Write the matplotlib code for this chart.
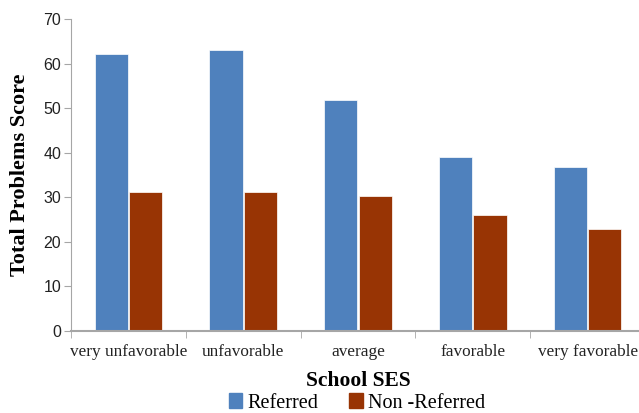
import numpy as np
import matplotlib.pyplot as plt
from matplotlib.patches import Patch

categories = ["very unfavorable", "unfavorable", "average", "favorable", "very favorable"]
referred = [62.1, 63.0, 51.8, 39.0, 36.8]
non_referred = [31.2, 31.2, 30.3, 26.0, 22.9]

blue = "#4f81bd"
red = "#983404"
gray = "#a6a6a6"

fig = plt.figure(figsize=(6.39, 4.13), dpi=100)
ax = fig.add_axes([71 / 639, 1 - 331 / 413, (645 - 71) / 639, 312 / 413])

x = np.arange(len(categories))
w = 0.29
ax.bar(x - w / 2 - 0.005, referred, width=w, color=blue, edgecolor="white", linewidth=0.5)
ax.bar(x + w / 2 + 0.005, non_referred, width=w, color=red, edgecolor="white", linewidth=0.5)

ax.set_xlim(-0.5, len(categories) - 0.5)
ax.set_ylim(0, 70)
ax.set_yticks(range(0, 71, 10))
ax.tick_params(axis="y", labelsize=11.5, colors="#222222", length=5, color=gray, pad=2)
for lbl in ax.get_yticklabels():
    lbl.set_fontfamily("Liberation Sans")

ax.set_xticks(x)
ax.set_xticklabels(categories, fontfamily="Liberation Serif", fontsize=12.4)
ax.set_xticks(np.arange(-0.5, len(categories), 1), minor=True)
ax.tick_params(axis="x", which="major", length=0, pad=9, colors="#222222")
ax.tick_params(axis="x", which="minor", length=5, color=gray)

for s in ["top", "right"]:
    ax.spines[s].set_visible(False)
ax.spines["left"].set_color(gray)
ax.spines["bottom"].set_color(gray)
ax.spines["bottom"].set_linewidth(1.5)

ax.set_ylabel("Total Problems Score", fontfamily="Liberation Serif", fontweight="bold", fontsize=16, labelpad=10)
ax.set_xlabel("School SES", fontfamily="Liberation Serif", fontweight="bold", fontsize=15.5, labelpad=8)

handles = [Patch(color=blue, label="Referred"), Patch(color=red, label="Non -Referred")]
fig.legend(handles=handles, loc="center", bbox_to_anchor=(357 / 639, 1 - 403 / 413), ncol=2, frameon=False,
           prop={"family": "Liberation Serif", "size": 14.5}, handlelength=0.65, handleheight=0.75,
           handletextpad=0.25, columnspacing=1.55, borderpad=0)

fig.savefig("out.png", dpi=100)
